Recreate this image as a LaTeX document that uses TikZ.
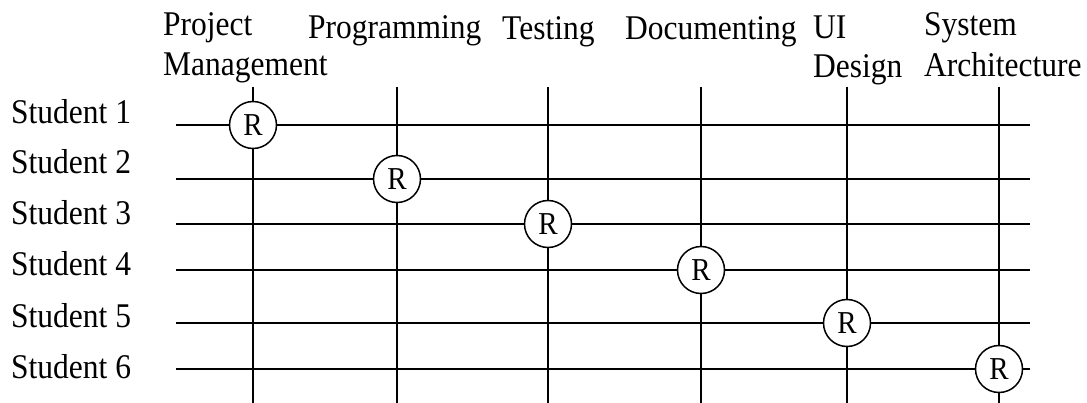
\documentclass[tikz,border=0pt]{standalone}
\usepackage{fontspec}
\usepackage{graphicx}
\setmainfont{Liberation Serif}
\newcommand{\tallt}[1]{\scalebox{1}[1.1]{#1}}
\begin{document}
\begin{tikzpicture}[x=1pt,y=-1pt,
  grid/.style={line width=1.6pt},
  rnode/.style={circle, draw, line width=1.5pt, fill=white, minimum size=47pt,
                inner sep=0pt},
  lab/.style={anchor=base west, inner sep=0pt, font=\fontsize{31.5}{36}\selectfont}]
\useasboundingbox (0,0) rectangle (1087,403);

% column headers
\node[lab] (hpm1) at (163,36) {\tallt{Project}};
\node[lab] (hpm2) at (163,76) {\tallt{Management}};
\node[lab] (hprog) at (308,39) {\tallt{Programming}};
\node[lab] (htest) at (502,40) {\tallt{Testing}};
\node[lab] (hdoc) at (625,40) {\tallt{Documenting}};
\node[lab] (hui1) at (813,39) {\tallt{UI}};
\node[lab] (hui2) at (813,78) {\tallt{Design}};
\node[lab] (hsa1) at (924,36) {\tallt{System}};
\node[lab] (hsa2) at (924,77) {\tallt{Architecture}};

% row labels
\node[lab] (s1) at (11,124) {\tallt{Student 1}};
\node[lab] (s2) at (11,174) {\tallt{Student 2}};
\node[lab] (s3) at (11,225) {\tallt{Student 3}};
\node[lab] (s4) at (11,276) {\tallt{Student 4}};
\node[lab] (s5) at (11,327) {\tallt{Student 5}};
\node[lab] (s6) at (11,378) {\tallt{Student 6}};

% grid end points
\foreach \i/\y in {1/125,2/179,3/224,4/270,5/323,6/369}{
  \coordinate (rl\i) at (176,\y);
  \coordinate (rr\i) at (1030,\y);
  \draw[grid] (rl\i) -- (rr\i);
}
\foreach \j/\x in {1/253,2/397,3/548,4/701,5/847,6/999}{
  \coordinate (ct\j) at (\x,87);
  \coordinate (cb\j) at (\x,403);
  \draw[grid] (ct\j) -- (cb\j);
}

% responsibility markers
\newcommand{\rmark}{\fontsize{29}{29}\selectfont\tallt{R}}
\node[rnode] (r1) at (253,125) {\rmark};
\node[rnode] (r2) at (397,179) {\rmark};
\node[rnode] (r3) at (548,224) {\rmark};
\node[rnode] (r4) at (701,270) {\rmark};
\node[rnode] (r5) at (847,323) {\rmark};
\node[rnode] (r6) at (999,369) {\rmark};
\end{tikzpicture}
\end{document}
